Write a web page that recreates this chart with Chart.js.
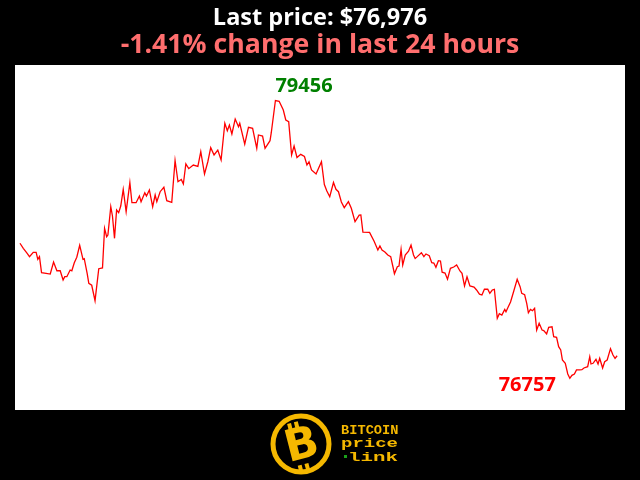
<!DOCTYPE html>
<html>
<head>
<meta charset="utf-8">
<title>Bitcoin price - last 24 hours</title>
<script src="https://cdn.jsdelivr.net/npm/chart.js@4/dist/chart.umd.min.js"></script>
<style>
  html, body { margin: 0; padding: 0; background: #000; }
  #wrap { width: 640px; height: 480px; }
</style>
</head>
<body>
<div id="wrap"><canvas id="priceChart" width="640" height="480"></canvas></div>
<script>
// minutes since start of the 24h window
const minutes = [
  0, 8, 16, 23, 32, 39, 43, 47, 52, 63, 73, 81, 89, 97, 104, 108, 113, 121, 125, 131,
  137, 144, 152, 155, 162, 166, 173, 181, 190, 199, 204, 209, 212, 219, 223, 228, 233, 238, 243, 249,
  256, 265, 270, 280, 288, 292, 301, 305, 312, 320, 326, 330, 338, 347, 354, 366, 374, 381, 389, 394,
  400, 407, 418, 429, 436, 445, 453, 460, 468, 477, 485, 494, 500, 505, 511, 519, 527, 530, 542, 551,
  561, 571, 575, 585, 591, 603, 606, 616, 625, 635, 641, 648, 655, 661, 668, 677, 686, 692, 697, 703,
  714, 727, 734, 740, 747, 756, 762, 768, 775, 782, 792, 799, 808, 818, 822, 827, 843, 854, 863, 868,
  873, 880, 887, 894, 899, 903, 910, 914, 919, 923, 929, 937, 943, 949, 953, 958, 968, 974, 979, 987,
  993, 998, 1003, 1009, 1014, 1018, 1025, 1031, 1038, 1046, 1053, 1061, 1066, 1072, 1078, 1085, 1095, 1101, 1108, 1114,
  1120, 1128, 1133, 1139, 1144, 1151, 1156, 1162, 1169, 1172, 1177, 1183, 1191, 1199, 1206, 1210, 1217, 1222, 1226, 1231,
  1236, 1241, 1246, 1252, 1259, 1263, 1270, 1275, 1283, 1287, 1294, 1299, 1304, 1308, 1315, 1321, 1326, 1331, 1337, 1342,
  1350, 1355, 1360, 1369, 1374, 1377, 1382, 1389, 1394, 1398, 1405, 1410, 1416, 1424, 1430, 1435, 1440
];

// BTC price in USD
const prices = [
  78069, 78020, 77977, 77939, 77981, 77981, 77913, 77939, 77783, 77777, 77770, 77887, 77802, 77802, 77712, 77744, 77744, 77809, 77802, 77880,
  77933, 78049, 77913, 77919, 77777, 77680, 77661, 77511, 77822, 77829, 78214, 78133, 78149, 78424, 78334, 78117, 78392, 78366, 78431, 78593,
  78376, 78658, 78463, 78463, 78528, 78473, 78560, 78528, 78587, 78424, 78538, 78473, 78570, 78613, 78483, 78467, 78873, 78667, 78689, 78645,
  78839, 78794, 78829, 78815, 78959, 78742, 78861, 78998, 78927, 78975, 78878, 79235, 79163, 79218, 79131, 79276, 79202, 79235, 79033, 79196,
  79186, 78992, 79121, 79111, 78992, 79066, 79143, 79456, 79448, 79364, 79267, 79250, 78927, 79014, 78902, 78933, 78912, 78829, 78861, 78781,
  78742, 78861, 78640, 78577, 78521, 78659, 78593, 78570, 78470, 78415, 78473, 78409, 78279, 78342, 78344, 78178, 78174, 78088, 78004, 78044,
  78004, 77984, 77955, 77939, 77848, 77773, 77841, 77848, 78010, 77858, 77955, 77992, 78052, 77955, 77921, 77939, 77977, 77939, 77965, 77948,
  77880, 77877, 77836, 77900, 77897, 77788, 77780, 77720, 77826, 77838, 77858, 77800, 77777, 77654, 77744, 77654, 77644, 77615, 77574, 77566,
  77622, 77622, 77583, 77615, 77622, 77340, 77385, 77372, 77427, 77404, 77447, 77498, 77608, 77719, 77647, 77583, 77569, 77486, 77394, 77427,
  77414, 77437, 77226, 77291, 77226, 77220, 77187, 77253, 77258, 77161, 77155, 77064, 77032, 76935, 76903, 76799, 76757, 76786, 76799, 76838,
  76838, 76841, 76857, 76870, 76967, 76896, 76903, 76942, 76896, 76951, 76857, 76918, 76935, 77045, 76983, 76951, 76976
];

const titleText = 'Last price: $76,976';
const subtitleText = '-1.41% change in last 24 hours';

const points = minutes.map((m, i) => ({ x: m, y: prices[i] }));

// fondo negro + area blanca
const backgroundPlugin = {
  id: 'background',
  beforeDraw(chart) {
    const { ctx, chartArea } = chart;
    ctx.save();
    ctx.fillStyle = '#000';
    ctx.fillRect(0, 0, chart.width, chart.height);
    ctx.fillStyle = '#fff';
    ctx.fillRect(chartArea.left, chartArea.top, chartArea.right - chartArea.left, chartArea.bottom - chartArea.top);
    ctx.restore();
  }
};

// texto estirado en horizontal (logo)
function wideText(ctx, text, x, y, sx) {
  ctx.save();
  ctx.translate(x, y);
  ctx.scale(sx, 1);
  ctx.fillText(text, 0, 0);
  ctx.restore();
}

// titulos, maximo/minimo y logo
const overlayPlugin = {
  id: 'overlay',
  afterDraw(chart) {
    const ctx = chart.ctx;
    const w = chart.width;
    ctx.save();
    ctx.textAlign = 'center';
    ctx.textBaseline = 'alphabetic';
    ctx.fillStyle = '#fff';
    ctx.font = 'bold 23.5px "Open Sans"';
    ctx.fillText(titleText, w / 2, 25);
    ctx.fillStyle = '#ff6e6e';
    ctx.font = 'bold 26.7px "Open Sans"';
    ctx.fillText(subtitleText, w / 2, 53);

    // max / min labels
    const meta = chart.getDatasetMeta(0);
    const maxIdx = prices.indexOf(Math.max(...prices));
    const minIdx = prices.indexOf(Math.min(...prices));
    const pMax = meta.data[maxIdx];
    const pMin = meta.data[minIdx];
    ctx.font = 'bold 20px "Open Sans"';
    ctx.fillStyle = '#008000';
    ctx.textAlign = 'left';
    ctx.fillText(String(prices[maxIdx]), pMax.x, pMax.y - 9);
    ctx.fillStyle = '#ff0000';
    ctx.textAlign = 'right';
    ctx.fillText(String(prices[minIdx]), pMin.x - 14, pMin.y + 13);

    // logo
    const cx = 301, cy = 444;
    const gold = '#f5b800';
    ctx.strokeStyle = gold;
    ctx.lineWidth = 5;
    ctx.beginPath();
    ctx.arc(cx, cy, 28, 0, Math.PI * 2);
    ctx.stroke();
    ctx.fillStyle = gold;
    ctx.save();
    ctx.translate(cx + 1, cy + 2);
    ctx.rotate(-0.25);
    ctx.textAlign = 'center';
    ctx.textBaseline = 'middle';
    ctx.font = 'bold 44px "DejaVu Sans"';
    ctx.fillText('B', 0, 1);
    ctx.fillRect(-9, -25, 4, 8);
    ctx.fillRect(-2, -25, 4, 8);
    ctx.fillRect(-9, 18, 4, 7);
    ctx.fillRect(-2, 18, 4, 7);
    ctx.restore();

    ctx.textAlign = 'left';
    ctx.textBaseline = 'alphabetic';
    ctx.fillStyle = gold;
    ctx.font = 'bold 12px "Liberation Mono"';
    wideText(ctx, 'BITCOIN', 341, 434, 1.14);
    ctx.font = 'bold 13px "Liberation Mono"';
    wideText(ctx, 'price', 341, 447, 1.46);
    wideText(ctx, 'link', 348, 461, 1.6);
    ctx.fillStyle = '#1aa01a';
    ctx.fillRect(344, 455, 3, 3);
    ctx.restore();
  }
};

new Chart(document.getElementById('priceChart'), {
  type: 'line',
  data: {
    datasets: [{
      data: points,
      borderColor: '#ff0000',
      borderWidth: 1.3,
      pointRadius: 0,
      tension: 0,
      fill: false
    }]
  },
  options: {
    responsive: false,
    animation: false,
    devicePixelRatio: 1,
    layout: { padding: { left: 15, right: 15, top: 65, bottom: 70 } },
    plugins: {
      legend: { display: false },
      tooltip: { enabled: false }
    },
    scales: {
      x: { type: 'linear', display: false, min: -12, max: 1459 },
      y: { display: false, min: 76449, max: 79801 }
    }
  },
  plugins: [backgroundPlugin, overlayPlugin]
});
</script>
</body>
</html>
